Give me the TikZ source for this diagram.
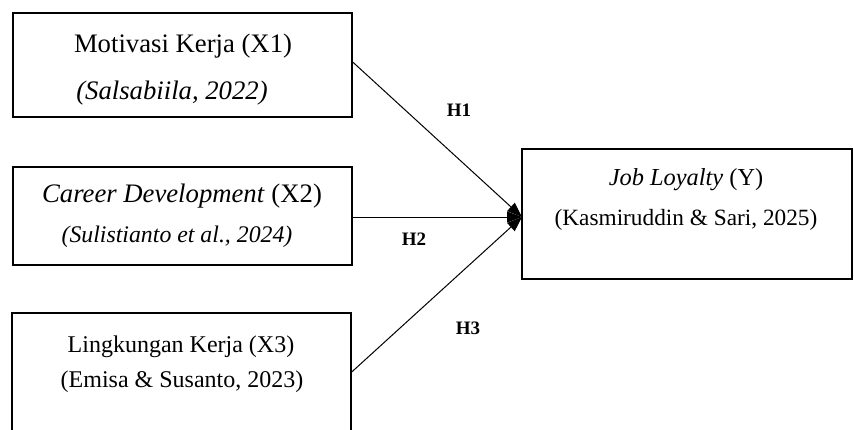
\documentclass[tikz,border=0pt]{standalone}
\usepackage{fontspec}
\setmainfont{Liberation Serif}
\usetikzlibrary{arrows.meta}
\tikzset{
  box/.style={draw=black, line width=1.4pt, rectangle, inner sep=0pt},
  txt/.style={font=\fontsize{24}{28}\selectfont, inner sep=0pt, anchor=center},
  big/.style={font=\fontsize{26.7}{30}\selectfont},
  hlab/.style={font=\fontsize{19}{22}\selectfont\bfseries, inner sep=0pt},
  conn/.style={draw=black, line width=1pt, -{Triangle[length=15pt,width=11pt]}}
}
\begin{document}
\begin{tikzpicture}[x=1pt,y=-1pt]
\useasboundingbox (0,0) rectangle (854,429);
\node[box, minimum width=339pt, minimum height=104pt] (x1) at (182.5,65) {};
\node[box, minimum width=339pt, minimum height=98pt] (x2) at (182.5,216) {};
\node[box, minimum width=339pt, minimum height=118pt] (x3) at (181.5,372) {};
\node[box, minimum width=330pt, minimum height=130pt] (y) at (687,214) {};

\node[txt, big] (t1a) at (183,46) {Motivasi Kerja (X1)};
\node[txt, big] (t1b) at (172,93) {\itshape (Salsabiila, 2022)};
\node[txt, big] (t2a) at (182,196) {\textit{Career Development} (X2)};
\node[txt, font=\fontsize{23.8}{28}\selectfont] (t2b) at (177,237) {\itshape (Sulistianto et al., 2024)};
\node[txt] (t3a) at (181,347) {Lingkungan Kerja (X3)};
\node[txt] (t3b) at (182,382) {(Emisa \& Susanto, 2023)};
\node[txt, font=\fontsize{24.4}{28}\selectfont] (tya) at (686,180) {\textit{Job Loyalty} (Y)};
\node[txt, font=\fontsize{23.3}{28}\selectfont] (tyb) at (686,220) {(Kasmiruddin \& Sari, 2025)};

\coordinate (tip) at (522,217);
\draw[conn] ([yshift=3pt]x1.east) -- (tip);
\draw[conn] ([yshift=-1pt]x2.east) -- (tip);
\draw[conn] (x3.east) -- (tip);

\node[hlab] (h1) at (459,110) {H1};
\node[hlab] (h2) at (414,239) {H2};
\node[hlab] (h3) at (468,328) {H3};
\end{tikzpicture}
\end{document}
